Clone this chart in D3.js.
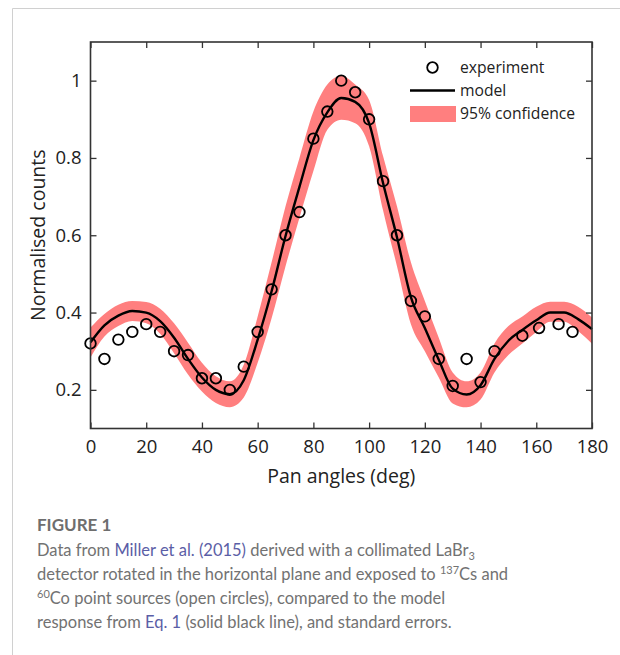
<!DOCTYPE html>
<html>
<head>
<meta charset="utf-8">
<script src="https://cdn.jsdelivr.net/npm/d3@7"></script>
<style>
  body { margin: 0; background: #fff; }
  svg { display: block; }
</style>
</head>
<body>
<div id="chart"></div>
<script>
// measured points (open circles)
var expAngles = [0, 5, 10, 15, 20, 25, 30, 35, 40, 45, 50, 55, 60, 65, 70, 75, 80, 85, 90, 95,
                 100, 105, 110, 115, 120, 125, 130, 135, 140, 145, 155, 161, 168, 173];
var expCounts = [0.32, 0.28, 0.33, 0.35, 0.37, 0.35, 0.30, 0.29, 0.23, 0.23, 0.20, 0.26, 0.35, 0.46, 0.60, 0.66, 0.85, 0.92, 1.00, 0.97,
                 0.90, 0.74, 0.60, 0.43, 0.39, 0.28, 0.21, 0.28, 0.22, 0.30, 0.34, 0.36, 0.37, 0.35];

// model curve and 95% band
var modelAngles = [0, 5, 10, 15, 20, 25, 30, 35, 40, 45, 50, 55, 60, 65, 70, 75, 80, 85, 90,
                   95, 100, 105, 110, 115, 120, 125, 130, 135, 140, 145, 150, 155, 160, 165, 170, 175, 180];
var modelCounts = [0.323, 0.367, 0.392, 0.404, 0.400, 0.378, 0.335, 0.280, 0.232, 0.200, 0.189, 0.225, 0.330, 0.455, 0.598, 0.725, 0.846, 0.918, 0.955,
                   0.945, 0.890, 0.735, 0.595, 0.440, 0.360, 0.278, 0.203, 0.188, 0.212, 0.280, 0.327, 0.355, 0.380, 0.400, 0.400, 0.383, 0.357];
var bandUpper = [0.361, 0.396, 0.420, 0.430, 0.427, 0.410, 0.372, 0.322, 0.270, 0.235, 0.222, 0.265, 0.390, 0.530, 0.675, 0.800, 0.920, 0.990, 1.013,
                 0.990, 0.950, 0.805, 0.675, 0.530, 0.430, 0.335, 0.245, 0.222, 0.245, 0.320, 0.365, 0.390, 0.415, 0.428, 0.428, 0.415, 0.387];
var bandLower = [0.284, 0.338, 0.365, 0.378, 0.372, 0.345, 0.295, 0.240, 0.196, 0.166, 0.155, 0.180, 0.270, 0.385, 0.520, 0.645, 0.766, 0.873, 0.899,
                 0.890, 0.830, 0.665, 0.520, 0.370, 0.300, 0.232, 0.165, 0.155, 0.175, 0.245, 0.290, 0.320, 0.350, 0.376, 0.376, 0.352, 0.319];

var xTicks = [0, 20, 40, 60, 80, 100, 120, 140, 160, 180];
var yTicks = [0.2, 0.4, 0.6, 0.8, 1];
var yTickLabels = ["0.2", "0.4", "0.6", "0.8", "1"];

var width = 620, height = 655;
var plot = {left: 90.5, right: 592, top: 42, bottom: 428.5};
var chartFont = "'Open Sans', sans-serif";

var svg = d3.select("#chart").append("svg")
    .attr("width", width)
    .attr("height", height);

// card border (left + top)
svg.append("path")
    .attr("d", "M12.5,655 V8.5 H620")
    .attr("fill", "none")
    .attr("stroke", "#d0d0d0")
    .attr("stroke-width", 1);

var x = d3.scaleLinear().domain([0, 180]).range([plot.left, plot.right]);
var y = d3.scaleLinear().domain([0.1, 1.1]).range([plot.bottom, plot.top]);

var model = modelAngles.map(function(a, i){
  return {a: a, v: modelCounts[i], hi: bandUpper[i], lo: bandLower[i]};
});

// confidence band
var area = d3.area()
    .x(d => x(d.a))
    .y0(d => y(d.lo))
    .y1(d => y(d.hi))
    .curve(d3.curveMonotoneX);

svg.append("path")
    .datum(model)
    .attr("d", area)
    .attr("fill", "#ff7f7f");

// model line
var line = d3.line()
    .x(d => x(d.a))
    .y(d => y(d.v))
    .curve(d3.curveMonotoneX);

svg.append("path")
    .datum(model)
    .attr("d", line)
    .attr("fill", "none")
    .attr("stroke", "#000")
    .attr("stroke-width", 2.4);

// experiment circles
svg.append("g")
  .selectAll("circle")
  .data(expAngles)
  .enter()
  .append("circle")
    .attr("cx", d => x(d))
    .attr("cy", (d, i) => y(expCounts[i]))
    .attr("r", 5.3)
    .attr("fill", "none")
    .attr("stroke", "#000")
    .attr("stroke-width", 1.8);

// axes, ticks inward on all four sides
function styleAxis(g){
  g.select(".domain").remove();
  g.selectAll(".tick line").attr("stroke", "#333").attr("stroke-width", 1.3);
  g.selectAll("text").attr("fill", "#222").style("font", "18.5px " + chartFont);
}

svg.append("g")
    .attr("transform", "translate(0," + plot.bottom + ")")
    .call(d3.axisBottom(x).tickValues(xTicks).tickSize(-6).tickPadding(11))
    .call(styleAxis);

svg.append("g")
    .attr("transform", "translate(0," + plot.top + ")")
    .call(d3.axisTop(x).tickValues(xTicks).tickSize(-6).tickFormat(""))
    .call(styleAxis);

svg.append("g")
    .attr("transform", "translate(" + plot.left + ",0)")
    .call(d3.axisLeft(y).tickValues(yTicks).tickSize(-6).tickPadding(9)
          .tickFormat((d, i) => yTickLabels[i]))
    .call(styleAxis);

svg.append("g")
    .attr("transform", "translate(" + plot.right + ",0)")
    .call(d3.axisRight(y).tickValues(yTicks).tickSize(-6).tickFormat(""))
    .call(styleAxis);

svg.append("rect")
    .attr("x", plot.left)
    .attr("y", plot.top)
    .attr("width", plot.right - plot.left)
    .attr("height", plot.bottom - plot.top)
    .attr("fill", "none")
    .attr("stroke", "#333")
    .attr("stroke-width", 1.6);

// axis titles
svg.append("text")
    .attr("x", (plot.left + plot.right) / 2)
    .attr("y", 483)
    .attr("text-anchor", "middle")
    .style("font", "19.5px " + chartFont)
    .attr("fill", "#222")
    .text("Pan angles (deg)");

svg.append("text")
    .attr("transform", "translate(45," + (plot.top + plot.bottom) / 2 + ") rotate(-90)")
    .attr("text-anchor", "middle")
    .style("font", "19.5px " + chartFont)
    .attr("fill", "#222")
    .text("Normalised counts");

// legend
var legend = svg.append("g").style("font", "15.7px " + chartFont).attr("fill", "#222");
legend.append("circle").attr("cx", 432.5).attr("cy", 67.5).attr("r", 5.3)
    .attr("fill", "none").attr("stroke", "#000").attr("stroke-width", 1.8);
legend.append("text").attr("x", 460).attr("y", 72.5).text("experiment");
legend.append("line").attr("x1", 410).attr("x2", 455).attr("y1", 90.5).attr("y2", 90.5)
    .attr("stroke", "#000").attr("stroke-width", 2.4);
legend.append("text").attr("x", 460).attr("y", 96).text("model");
legend.append("rect").attr("x", 410).attr("y", 106).attr("width", 46).attr("height", 16)
    .attr("fill", "#ff7f7f");
legend.append("text").attr("x", 460).attr("y", 119).text("95% confidence");

// caption
var capFont = "Lato, 'Open Sans', sans-serif";
var grey = "#727272", link = "#5b5ea6";
svg.append("text")
    .attr("x", 37).attr("y", 530.5)
    .style("font", "bold 17px " + capFont)
    .attr("fill", "#6e6e6e")
    .text("FIGURE 1");

var cap = svg.append("g").style("font", "16.5px " + capFont).attr("fill", grey);

var l1 = cap.append("text").attr("x", 37).attr("y", 555.5);
l1.append("tspan").text("Data from ");
l1.append("tspan").attr("fill", link).text("Miller et al. (2015)");
l1.append("tspan").text(" derived with a collimated LaBr");
l1.append("tspan").attr("dy", 4).style("font-size", "11px").text("3");

var l2 = cap.append("text").attr("x", 37).attr("y", 580);
l2.append("tspan").text("detector rotated in the horizontal plane and exposed to ");
l2.append("tspan").attr("dy", -6).style("font-size", "11px").text("137");
l2.append("tspan").attr("dy", 6).text("Cs and");

var l3 = cap.append("text").attr("x", 37).attr("y", 604);
l3.append("tspan").attr("dy", -6).style("font-size", "11px").text("60");
l3.append("tspan").attr("dy", 6).text("Co point sources (open circles), compared to the model");

var l4 = cap.append("text").attr("x", 37).attr("y", 628);
l4.append("tspan").text("response from ");
l4.append("tspan").attr("fill", link).text("Eq. 1");
l4.append("tspan").text(" (solid black line), and standard errors.");
</script>
</body>
</html>
